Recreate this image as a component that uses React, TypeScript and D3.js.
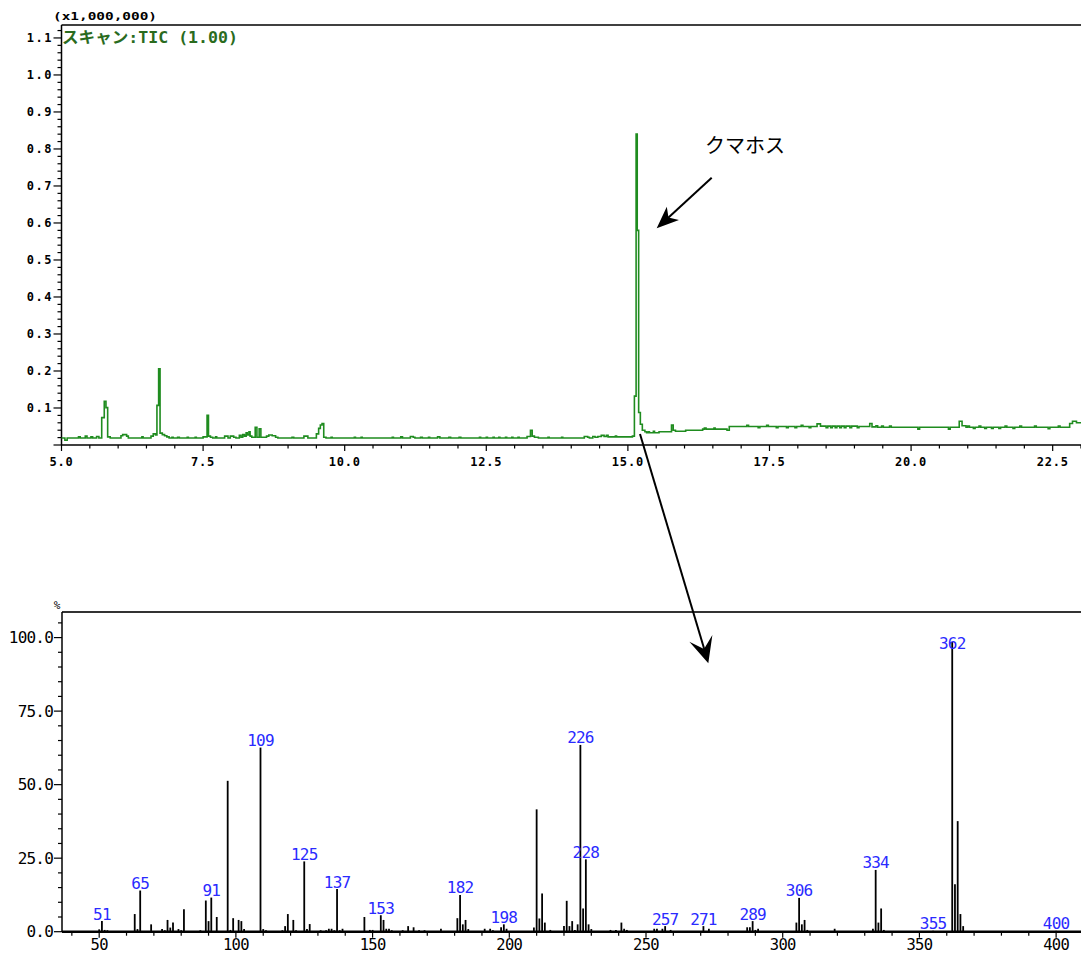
import React from "react";
import * as d3 from "d3";

const W = 1081;
const H = 955;

// TIC chromatogram as step samples: [retention time (min), intensity (x1,000,000)]
const ticPoints: [number, number][] = [
  [5.0, 0.019], [5.06, 0.013], [5.1, 0.019], [5.3, 0.022], [5.33, 0.019], [5.42, 0.024], [5.45, 0.019],
  [5.52, 0.022], [5.55, 0.019], [5.62, 0.023], [5.66, 0.019],
  [5.71, 0.074], [5.755, 0.118], [5.785, 0.101], [5.815, 0.022], [5.86, 0.019],
  [6.05, 0.025], [6.08, 0.028], [6.15, 0.024], [6.18, 0.019],
  [6.42, 0.022], [6.44, 0.019], [6.58, 0.024], [6.62, 0.03], [6.66, 0.027],
  [6.685, 0.107], [6.715, 0.206], [6.74, 0.032], [6.78, 0.028], [6.82, 0.025], [6.86, 0.022], [6.9, 0.019],
  [6.95, 0.021], [6.97, 0.019], [7.05, 0.021], [7.08, 0.019], [7.22, 0.021], [7.24, 0.019], [7.36, 0.021], [7.38, 0.019],
  [7.5, 0.022], [7.57, 0.08], [7.595, 0.024], [7.63, 0.021], [7.67, 0.019], [7.72, 0.022], [7.74, 0.019],
  [7.88, 0.024], [7.94, 0.019], [7.98, 0.024], [8.04, 0.021], [8.08, 0.019],
  [8.14, 0.026], [8.17, 0.021], [8.2, 0.028], [8.23, 0.024], [8.26, 0.033], [8.28, 0.027], [8.31, 0.036], [8.33, 0.024],
  [8.36, 0.021], [8.42, 0.048], [8.45, 0.021], [8.49, 0.044], [8.52, 0.021],
  [8.58, 0.021], [8.62, 0.024], [8.66, 0.027], [8.72, 0.025], [8.78, 0.021], [8.82, 0.019],
  [9.07, 0.021], [9.1, 0.019], [9.28, 0.024], [9.35, 0.019],
  [9.5, 0.03], [9.54, 0.045], [9.57, 0.054], [9.6, 0.058], [9.63, 0.021], [9.67, 0.019],
  [9.76, 0.021], [9.78, 0.019], [10.17, 0.021], [10.19, 0.019], [10.29, 0.021], [10.31, 0.019],
  [10.84, 0.021], [10.86, 0.019], [10.99, 0.022], [11.02, 0.019], [11.16, 0.023], [11.21, 0.021], [11.24, 0.019],
  [11.34, 0.021], [11.37, 0.019], [11.48, 0.021], [11.5, 0.019], [11.64, 0.022], [11.68, 0.019],
  [11.84, 0.021], [11.87, 0.019], [12.02, 0.021], [12.05, 0.019], [12.38, 0.021], [12.4, 0.019],
  [12.5, 0.021], [12.52, 0.019], [12.62, 0.021], [12.64, 0.019], [12.72, 0.021], [12.74, 0.019],
  [12.84, 0.021], [12.86, 0.019], [12.95, 0.021], [12.97, 0.019], [13.06, 0.021], [13.08, 0.019],
  [13.22, 0.023], [13.28, 0.04], [13.31, 0.024], [13.35, 0.021], [13.42, 0.019],
  [13.59, 0.021], [13.61, 0.019], [13.83, 0.021], [13.85, 0.019],
  [14.23, 0.023], [14.29, 0.021], [14.32, 0.019], [14.38, 0.023], [14.42, 0.021], [14.47, 0.023],
  [14.53, 0.026], [14.58, 0.023], [14.62, 0.026], [14.65, 0.022], [14.78, 0.024], [14.8, 0.022],
  [15.08, 0.024], [15.115, 0.132], [15.145, 0.84], [15.165, 0.58], [15.19, 0.088], [15.22, 0.056],
  [15.255, 0.04], [15.3, 0.036], [15.33, 0.033], [15.36, 0.036], [15.38, 0.033], [15.45, 0.037], [15.47, 0.033],
  [15.55, 0.036], [15.77, 0.054], [15.8, 0.04], [15.84, 0.037], [16.02, 0.04], [16.32, 0.043], [16.35, 0.046],
  [16.38, 0.043], [16.52, 0.046], [16.54, 0.043], [16.75, 0.04], [16.79, 0.05],
  [17.1, 0.053], [17.13, 0.05], [17.3, 0.047], [17.33, 0.05], [17.45, 0.053], [17.48, 0.05],
  [17.62, 0.047], [17.65, 0.05], [17.8, 0.047], [17.83, 0.05], [17.95, 0.047], [17.98, 0.05],
  [18.06, 0.053], [18.09, 0.05], [18.2, 0.047], [18.23, 0.05], [18.34, 0.057], [18.4, 0.051],
  [18.5, 0.047], [18.53, 0.051], [18.58, 0.047], [18.61, 0.051], [18.66, 0.047], [18.69, 0.051],
  [18.74, 0.047], [18.77, 0.051], [18.82, 0.047], [18.85, 0.051], [18.92, 0.047], [18.95, 0.051],
  [19.05, 0.047], [19.08, 0.05], [19.27, 0.058], [19.31, 0.049], [19.38, 0.052], [19.41, 0.048],
  [19.48, 0.051], [19.51, 0.048], [19.62, 0.051], [19.65, 0.048], [20.12, 0.043], [20.15, 0.048],
  [20.66, 0.043], [20.69, 0.048], [20.85, 0.064], [20.9, 0.052], [20.97, 0.048],
  [21.0, 0.051], [21.03, 0.048], [21.1, 0.045], [21.13, 0.048], [21.2, 0.051], [21.23, 0.048],
  [21.3, 0.045], [21.33, 0.048], [21.42, 0.045], [21.45, 0.048], [21.55, 0.045], [21.58, 0.048],
  [21.66, 0.051], [21.69, 0.048], [21.8, 0.045], [21.83, 0.048], [21.92, 0.051], [21.95, 0.048],
  [22.18, 0.051], [22.21, 0.048], [22.42, 0.044], [22.45, 0.048], [22.6, 0.051], [22.63, 0.048],
  [22.8, 0.058], [22.85, 0.064], [22.92, 0.06], [23.0, 0.06],
];

const ticYTicks = [0.1, 0.2, 0.3, 0.4, 0.5, 0.6, 0.7, 0.8, 0.9, 1.0, 1.1];
const ticYLabels = ["0.1", "0.2", "0.3", "0.4", "0.5", "0.6", "0.7", "0.8", "0.9", "1.0", "1.1"];
const ticXTicks = [5.0, 7.5, 10.0, 12.5, 15.0, 17.5, 20.0, 22.5];
const ticXLabels = ["5.0", "7.5", "10.0", "12.5", "15.0", "17.5", "20.0", "22.5"];

// Mass spectrum of the main peak: m/z and relative intensity (%)
const spectrumMz = [
  50, 51, 52, 53, 63, 64, 65, 69, 73, 74, 75, 76, 77, 79, 80, 81, 87, 89, 90, 91, 93,
  97, 98, 99, 101, 102, 103, 109, 110, 111, 117, 118, 119, 121, 122, 125, 126, 127,
  131, 133, 134, 135, 136, 137, 138, 139, 147, 149, 150, 153, 154, 155, 156, 157,
  161, 163, 165, 167, 169, 175, 181, 182, 183, 184, 185, 191, 193, 194, 197, 198, 199,
  209, 210, 211, 212, 213, 215, 220, 221, 222, 223, 224, 225, 226, 227, 228, 229, 230,
  237, 239, 241, 242, 243, 253, 254, 256, 257, 259, 271, 273, 287, 288, 289, 290, 291,
  305, 306, 307, 308, 309, 319, 333, 334, 335, 336, 337, 355, 362, 363, 364, 365, 366, 400,
];
const spectrumIntensity = [
  0.8, 3.6, 0.6, 0.5, 6.0, 0.9, 14.0, 2.5, 0.9, 0.5, 4.0, 1.4, 3.1, 0.9, 0.5, 7.6, 0.5, 10.6, 3.6, 11.6, 5.0,
  51.3, 0.6, 4.6, 4.0, 3.6, 0.9, 62.6, 0.9, 0.5, 0.5, 1.9, 6.0, 4.0, 0.5, 23.9, 0.9, 2.6,
  0.5, 0.5, 1.0, 1.0, 0.5, 14.5, 0.5, 1.0, 5.0, 0.6, 0.6, 5.6, 4.0, 1.0, 1.0, 0.5,
  0.5, 1.9, 1.5, 0.5, 0.5, 1.0, 4.6, 12.5, 2.5, 4.0, 0.9, 1.0, 1.0, 0.5, 1.5, 2.5, 1.0,
  1.4, 41.6, 4.5, 13.0, 3.1, 0.6, 1.9, 10.5, 1.9, 3.6, 0.6, 2.5, 63.5, 7.9, 24.6, 2.5, 0.9,
  0.6, 0.6, 3.1, 1.0, 0.6, 1.0, 1.0, 1.0, 1.9, 0.6, 1.9, 1.0, 1.5, 1.5, 3.6, 0.6, 1.0,
  3.1, 11.5, 2.5, 4.0, 0.6, 1.0, 1.0, 21.0, 3.1, 7.9, 0.6, 0.3, 98.5, 16.1, 37.6, 6.0, 1.9, 0.3,
];
const labeledMz = [51, 65, 91, 109, 125, 137, 153, 182, 198, 226, 228, 257, 271, 289, 306, 334, 355, 362, 400];
const msYTicks = [0, 25, 50, 75, 100];
const msYLabels = ["0.0", "25.0", "50.0", "75.0", "100.0"];
const msXTicks = [50, 100, 150, 200, 250, 300, 350, 400];

const pixelFont = "'DejaVu Sans Mono', 'Noto Sans CJK JP', monospace";
const numFont = "'DejaVu Sans Mono', monospace";

function arrowHead(tip: [number, number], from: [number, number], len: number, half: number, notch: number) {
  const dx = tip[0] - from[0];
  const dy = tip[1] - from[1];
  const d = Math.hypot(dx, dy);
  const ux = dx / d, uy = dy / d;
  const px = -uy, py = ux;
  const bx = tip[0] - ux * len, by = tip[1] - uy * len;
  const nx = tip[0] - ux * notch, ny = tip[1] - uy * notch;
  return `M${tip[0]},${tip[1]}L${bx + px * half},${by + py * half}L${nx},${ny}L${bx - px * half},${by - py * half}Z`;
}

export default function App() {
  // chromatogram scales
  const x = d3.scaleLinear().domain([5, 23]).range([61.5, 1081]);
  const y = d3.scaleLinear().domain([0, 1.135]).range([445, 25]);
  const ticLine = d3
    .line<[number, number]>()
    .x((d) => x(d[0]))
    .y((d) => y(d[1]))
    .curve(d3.curveStepAfter);
  const ticMinorX = d3.range(0, 37).map((i) => 5 + i * 0.5);
  const ticMinorY = d3.range(0, 57).map((i) => i * 0.02);

  // spectrum scales
  const mx = d3.scaleLinear().domain([36.4, 409.1]).range([62, 1081]);
  const my = d3.scaleLinear().domain([0, 108.7]).range([931.7, 612]);
  const msMinorX = d3.range(4, 41).map((i) => i * 10);
  const msMinorY = d3.range(0, 22).map((i) => i * 5);
  const intensityOf = (m: number) => spectrumIntensity[spectrumMz.indexOf(m)];

  const shortFrom: [number, number] = [711.7, 177.7];
  const shortTip: [number, number] = [656.7, 228.3];
  const longFrom: [number, number] = [640, 434];
  const longTip: [number, number] = [708.3, 663.3];

  return (
    <svg
      width={W}
      height={H}
      viewBox={`0 0 ${W} ${H}`}
      style={{ position: "absolute", left: 0, top: 0, background: "#fff" }}
    >
      <rect x={0} y={0} width={W} height={H} fill="#fff" />

      {/* ---------- TIC chromatogram ---------- */}
      <text x={53} y={20} fontFamily={pixelFont} fontWeight="bold" fontSize={11} textLength={104} lengthAdjust="spacingAndGlyphs" fill="#000">
        (x1,000,000)
      </text>
      <line x1={61.5} x2={W} y1={25} y2={25} stroke="#000" strokeWidth={1.5} />
      <line x1={61.5} x2={61.5} y1={25} y2={445} stroke="#000" strokeWidth={1.5} />
      <line x1={61.5} x2={W} y1={445} y2={445} stroke="#000" strokeWidth={1.5} />
      {ticMinorY.map((v, i) => (
        <line key={`tmy${i}`} x1={61.5 - (i % 5 === 0 ? 8 : 4)} x2={61.5} y1={y(v)} y2={y(v)} stroke="#000" strokeWidth={1.2} />
      ))}
      {ticYTicks.map((v, i) => (
        <text key={`tyl${i}`} x={53} y={y(v)} dy="0.36em" textAnchor="end" fontFamily={numFont} fontWeight="bold" fontSize={12} letterSpacing={1.5} fill="#000">
          {ticYLabels[i]}
        </text>
      ))}
      {ticMinorX.map((t, i) => (
        <line key={`tmx${i}`} x1={x(t)} x2={x(t)} y1={445} y2={445 + (i % 5 === 0 ? 6 : 3.5)} stroke="#000" strokeWidth={1.2} />
      ))}
      {ticXTicks.map((t, i) => (
        <text key={`txl${i}`} x={x(t)} y={466} textAnchor="middle" fontFamily={numFont} fontWeight="bold" fontSize={12} letterSpacing={0.8} fill="#000">
          {ticXLabels[i]}
        </text>
      ))}
      <path d={ticLine(ticPoints) ?? ""} fill="none" stroke="#1f8c1f" strokeWidth={1.6} />
      <text x={62} y={43} fontFamily={pixelFont} fontWeight="bold" fontSize={16} textLength={176} lengthAdjust="spacingAndGlyphs" fill="#2a6b1e">
        スキャン:TIC (1.00)
      </text>

      {/* annotation */}
      <text x={705} y={153} fontFamily="'Noto Sans CJK JP', sans-serif" fontSize={20} fill="#000">
        クマホス
      </text>
      <line x1={shortFrom[0]} y1={shortFrom[1]} x2={shortTip[0] + 8} y2={shortTip[1] - 7.3} stroke="#000" strokeWidth={2} />
      <path d={arrowHead(shortTip, shortFrom, 22, 9, 16)} fill="#000" />

      {/* ---------- Mass spectrum ---------- */}
      <text x={57} y={609} textAnchor="middle" fontFamily={numFont} fontSize={11} fill="#000">
        %
      </text>
      <line x1={62} x2={W} y1={612} y2={612} stroke="#333" strokeWidth={2} />
      <line x1={62} x2={62} y1={612} y2={932} stroke="#000" strokeWidth={1.5} />
      {msMinorY.map((v, i) => (
        <line key={`mmy${i}`} x1={62 - (v % 25 === 0 ? 8 : 4)} x2={62} y1={my(v)} y2={my(v)} stroke="#000" strokeWidth={1.2} />
      ))}
      {msYTicks.map((v, i) => (
        <text key={`myl${i}`} x={53} y={my(v)} dy="0.36em" textAnchor="end" fontFamily={numFont} fontSize={16} letterSpacing={-0.8} fill="#000">
          {msYLabels[i]}
        </text>
      ))}
      {msMinorX.map((m, i) => (
        <line key={`mmx${i}`} x1={mx(m)} x2={mx(m)} y1={931.7} y2={931.7 + (m % 50 === 0 ? 6 : 4)} stroke="#000" strokeWidth={1.2} />
      ))}
      {msXTicks.map((m, i) => (
        <text key={`mxl${i}`} x={mx(m)} y={950} textAnchor="middle" fontFamily={numFont} fontSize={15.5} letterSpacing={-0.7} fill="#000">
          {m}
        </text>
      ))}
      {spectrumMz.map((m, i) => (
        <line key={`bar${i}`} x1={mx(m)} x2={mx(m)} y1={my(0)} y2={my(spectrumIntensity[i])} stroke="#000" strokeWidth={1.8} />
      ))}
      <line x1={62} x2={W} y1={931.7} y2={931.7} stroke="#000" strokeWidth={2.5} />
      {labeledMz.map((m) => (
        <text
          key={`lab${m}`}
          x={mx(m)}
          y={Math.max(my(intensityOf(m)) - 1.5, 649)}
          textAnchor="middle"
          fontFamily={numFont}
          fontSize={16}
          letterSpacing={-0.8}
          fill="#2a2aff"
        >
          {m}
        </text>
      ))}

      {/* long arrow from the peak down to its spectrum */}
      <line x1={longFrom[0]} y1={longFrom[1]} x2={longTip[0] - 4} y2={longTip[1] - 14} stroke="#000" strokeWidth={2} />
      <path d={arrowHead(longTip, longFrom, 26, 12, 15)} fill="#000" />
    </svg>
  );
}
